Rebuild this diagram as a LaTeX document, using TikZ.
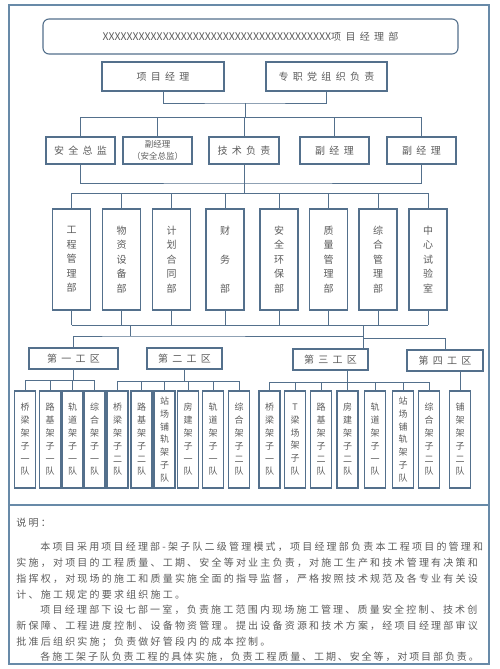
\documentclass[tikz,border=0pt]{standalone}
\usepackage{fontspec}
\newfontfamily\cjk{Noto Sans CJK SC}
\newfontfamily\cjkancho[LetterSpace=43]{Noto Sans CJK SC}
\newfontfamily\cjkparr[LetterSpace=22]{Noto Sans CJK SC}
\newfontfamily\cjkfin[LetterSpace=19]{Noto Sans CJK SC}

\definecolor{linea}{RGB}{84,112,140}
\definecolor{marco}{RGB}{104,138,168}
\definecolor{texto}{RGB}{92,92,92}

\providecommand{\ramal}[5]{
    \draw (#1) -- (#1 |- #2);
    \draw (#3.north |- #2) -- (#4.north |- #2);
    \foreach \n in {#5} {\draw (\n.north) -- (\n.north |- #2);}
}
\providecommand{\equipo}[3]{
    \node[equipo] (#1) at (#2, 439.5) {#3};
}

\begin{document}
\begin{tikzpicture}[
    x=1pt, y=-1pt, line width=0.9pt, color=linea,
    cabecera/.style={draw, rounded corners=6pt, minimum width=415pt, minimum height=35pt, inner sep=0pt, text=texto, line width=1.1pt, font=\cjkancho\fontsize{10}{12}\selectfont},
    cargo/.style={draw, fill=white, inner sep=0pt, text=texto, line width=1.1pt, minimum width=69pt, minimum height=27pt, font=\cjkancho\fontsize{10}{12}\selectfont},
    departamento/.style={draw, fill=white, inner sep=0pt, text=texto, line width=1.1pt, align=center, minimum width=38pt, minimum height=101pt, font=\cjk\fontsize{10}{14.5}\selectfont},
    zona/.style={draw, fill=white, inner sep=0pt, text=texto, line width=1.1pt, minimum height=21pt, font=\cjkancho\fontsize{10}{12}\selectfont},
    equipo/.style={draw, fill=white, inner sep=0pt, text=texto, line width=1.1pt, align=center, minimum width=21pt, minimum height=97pt, font=\cjk\fontsize{9}{12.8}\selectfont},
    nota/.style={anchor=west, inner sep=0pt, text=texto, font=\cjkparr\fontsize{10}{12}\selectfont},
    marcos/.style={draw=marco, line width=1.3pt}
]

    % FONDO Y MARCOS
    \fill[white] (0,0) rectangle (500,669);
    \useasboundingbox (0,0) rectangle (500,669);
    \draw[marcos] (9,5) rectangle (489,505);
    \draw[marcos] (9,505) rectangle (489,664);

    % CABECERA
    \node[cabecera] (titulo) at (250.5,36.5) {{\cjk\fontsize{10.5}{12}\selectfont XXXXXXXXXXXXXXXXXXXXXXXXXXXXXXXXXXXXXX}项目经理部};

    % DIRECCION
    \node[cargo, minimum width=122pt, minimum height=29pt] (gerente) at (163,76.5) {项目经理};
    \node[cargo, minimum width=121pt, minimum height=29pt] (partido) at (326.5,76.5) {专职党组织负责};

    % CARGOS
    \node[cargo] (seguridad) at (80.5,150.5) {安全总监};
    \node[cargo, align=center, font=\cjk\fontsize{8.5}{11.5}\selectfont] (subseg) at (157.5,150.5) {副经理\\（安全总监）};
    \node[cargo, minimum width=70pt] (tecnico) at (244,150.5) {技术负责};
    \node[cargo] (sub1) at (334.5,150.5) {副经理};
    \node[cargo] (sub2) at (421.5,150.5) {副经理};

    % DEPARTAMENTOS
    \node[departamento] (dept1) at (71.5,259.5) {工\\程\\管\\理\\部};
    \node[departamento] (dept2) at (121.5,259.5) {物\\资\\设\\备\\部};
    \node[departamento] (dept3) at (171.5,259.5) {计\\划\\合\\同\\部};
    \node[departamento] (dept4) at (225,259.5) {财\\[14.5pt]务\\[14.5pt]部};
    \node[departamento] (dept5) at (279,259.5) {安\\全\\环\\保\\部};
    \node[departamento] (dept6) at (328.5,259.5) {质\\量\\管\\理\\部};
    \node[departamento] (dept7) at (378,259.5) {综\\合\\管\\理\\部};
    \node[departamento] (dept8) at (428,259.5) {中\\心\\试\\验\\室};

    % ZONAS DE OBRA
    \node[zona, minimum width=89pt] (zona1) at (73.5,358.5) {第一工区};
    \node[zona, minimum width=75pt] (zona2) at (184.5,358.5) {第二工区};
    \node[zona, minimum width=75pt] (zona3) at (330.5,359.5) {第三工区};
    \node[zona, minimum width=76pt] (zona4) at (445,360.5) {第四工区};

    % EQUIPOS
    \equipo{eq11}{25}{桥\\梁\\架\\子\\一\\队}
    \equipo{eq12}{50}{路\\基\\架\\子\\一\\队}
    \equipo{eq13}{72.5}{轨\\道\\架\\子\\一\\队}
    \equipo{eq14}{94.5}{综\\合\\架\\子\\一\\队}
    \equipo{eq21}{117.5}{桥\\梁\\架\\子\\二\\队}
    \equipo{eq22}{141.5}{路\\基\\架\\子\\二\\队}
    \equipo{eq23}{164.5}{站\\场\\铺\\轨\\架\\子\\队}
    \equipo{eq24}{188}{房\\建\\架\\子\\一\\队}
    \equipo{eq25}{213}{轨\\道\\架\\子\\一\\队}
    \equipo{eq26}{239}{综\\合\\架\\子\\二\\队}
    \equipo{eq31}{269.5}{桥\\梁\\架\\子\\一\\队}
    \equipo{eq32}{295}{T\\梁\\场\\架\\子\\队}
    \equipo{eq33}{321}{路\\基\\架\\子\\二\\队}
    \equipo{eq34}{347.5}{房\\建\\架\\子\\二\\队}
    \equipo{eq35}{375}{轨\\道\\架\\子\\一\\队}
    \equipo{eq36}{403}{站\\场\\铺\\轨\\架\\子\\队}
    \equipo{eq37}{429}{综\\合\\架\\子\\二\\队}
    \equipo{eq41}{460}{铺\\架\\架\\子\\二\\队}

    % PUNTOS DE UNION
    \coordinate (u1) at (245,103);
    \coordinate (u2) at (245,117);
    \coordinate (u3) at (245,183);
    \coordinate (u4) at (245,193);
    \coordinate (u5) at (130,325);
    \coordinate (u6) at (130,336);
    \coordinate (u7) at (363,325);
    \coordinate (u8) at (363,338);
    \coordinate (b1) at (0,380);
    \coordinate (b2) at (0,381);
    \coordinate (b3) at (0,382);
    \coordinate (z3) at (eq34.north |- zona3.south);

    % CONEXIONES
    \draw (gerente.south) |- (u1) -| (partido.south);
    \ramal{u1}{u2}{seguridad}{sub2}{seguridad,subseg,tecnico,sub1,sub2}
    \draw (seguridad.south) |- (u3) -| (sub2.south);
    \ramal{tecnico.south}{u4}{dept1}{dept8}{dept1,dept2,dept3,dept4,dept5,dept6,dept7,dept8}
    \draw (dept1.south |- u5) -- (dept8.south |- u5);
    \foreach \n in {dept1,dept2,dept3,dept4,dept5,dept6,dept7,dept8} {\draw (\n.south) -- (\n.south |- u5);}
    \draw (u5) -- (u6);
    \draw (zona1.north) |- (u6) -- (u6 -| u7);
    \draw (u7) -- (u7 |- zona3.north);
    \draw (u8) -| (zona4.north);
    \ramal{zona1.south}{b1}{eq11}{eq14}{eq11,eq12,eq13,eq14}
    \ramal{zona2.south}{b2}{eq21}{eq26}{eq21,eq22,eq23,eq24,eq25,eq26}
    \ramal{z3}{b3}{eq31}{eq37}{eq31,eq32,eq33,eq34,eq35,eq36,eq37}
    \draw (eq41.north |- zona4.south) -- (eq41.north);

    % NOTA
    \node[nota] (n0) at (16,523) {说明：};
    \node[nota] (n1) at (40,547) {本项目采用项目经理部-架子队二级管理模式，项目经理部负责本工程项目的管理和};
    \node[nota] (n2) at (16,563) {实施，对项目的工程质量、工期、安全等对业主负责，对施工生产和技术管理有决策和};
    \node[nota] (n3) at (16,579) {指挥权，对现场的施工和质量实施全面的指导监督，严格按照技术规范及各专业有关设};
    \node[nota] (n4) at (16,595) {计、施工规定的要求组织施工。};
    \node[nota] (n5) at (40,610) {项目经理部下设七部一室，负责施工范围内现场施工管理、质量安全控制、技术创};
    \node[nota] (n6) at (16,626) {新保障、工程进度控制、设备物资管理。提出设备资源和技术方案，经项目经理部审议};
    \node[nota] (n7) at (16,642) {批准后组织实施；负责做好管段内的成本控制。};
    \node[nota, font=\cjkfin\fontsize{10}{12}\selectfont] (n8) at (40,657) {各施工架子队负责工程的具体实施，负责工程质量、工期、安全等，对项目部负责。};

\end{tikzpicture}
\end{document}
